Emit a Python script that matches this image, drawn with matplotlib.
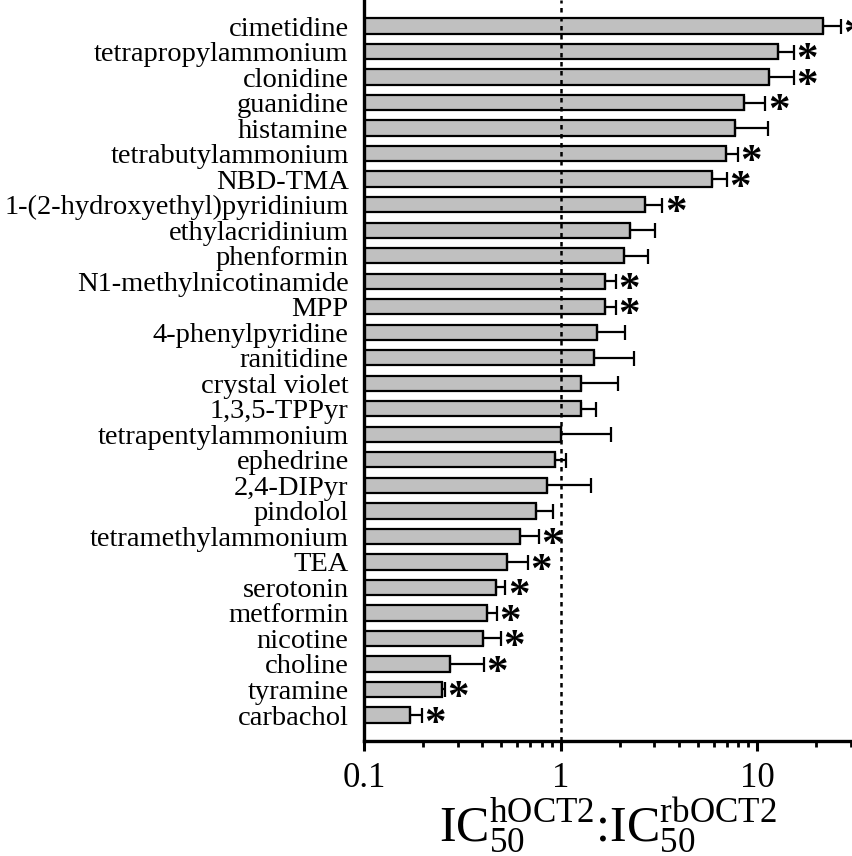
import matplotlib
matplotlib.use("Agg")
import matplotlib.pyplot as plt
import numpy as np

plt.rcParams['font.family'] = ['Liberation Serif', 'DejaVu Serif']
plt.rcParams['mathtext.fontset'] = 'custom'
plt.rcParams['mathtext.rm'] = 'Liberation Serif'
plt.rcParams['mathtext.it'] = 'Liberation Serif'
plt.rcParams['mathtext.bf'] = 'Liberation Serif:bold'

# compuestos, de arriba hacia abajo
compuestos = ['cimetidine', 'tetrapropylammonium', 'clonidine', 'guanidine',
              'histamine', 'tetrabutylammonium', 'NBD-TMA',
              '1-(2-hydroxyethyl)pyridinium', 'ethylacridinium', 'phenformin',
              'N1-methylnicotinamide', 'MPP', '4-phenylpyridine', 'ranitidine',
              'crystal violet', '1,3,5-TPPyr', 'tetrapentylammonium',
              'ephedrine', '2,4-DIPyr', 'pindolol', 'tetramethylammonium',
              'TEA', 'serotonin', 'metformin', 'nicotine', 'choline',
              'tyramine', 'carbachol']

# cociente IC50 hOCT2 : IC50 rbOCT2
ratio = [21.5, 12.7, 11.5, 8.6, 7.7, 6.9, 5.9,
         2.69, 2.25, 2.10,
         1.69, 1.68, 1.54, 1.48,
         1.27, 1.27, 1.00,
         0.94, 0.85, 0.75, 0.62,
         0.535, 0.47, 0.42, 0.405, 0.275,
         0.248, 0.172]

# extremo superior de la barra de error
err_sup = [26.6, 15.3, 15.4, 11.0, 11.3, 8.0, 7.0,
           3.29, 3.01, 2.78,
           1.91, 1.91, 2.13, 2.35,
           1.96, 1.51, 1.80,
           1.06, 1.42, 0.92, 0.776,
           0.682, 0.523, 0.474, 0.497, 0.407,
           0.258, 0.197]

# diferencia significativa (*)
signif = [1, 1, 1, 1, 0, 1, 1,
          1, 0, 0,
          1, 1, 0, 0,
          0, 0, 0,
          0, 0, 0, 1,
          1, 1, 1, 1, 1,
          1, 1]

n = len(compuestos)
y = np.arange(n)[::-1]
ratio = np.array(ratio)
err_sup = np.array(err_sup)
base = 0.1

fig = plt.figure(figsize=(8.53, 8.56), dpi=100)
ax = fig.add_axes([0.4267, 0.1343, 0.571, 0.8657])

ax.barh(y, ratio - base, left=base, height=0.6, color='#c0c0c0',
        edgecolor='black', linewidth=1.6, zorder=2)
ax.errorbar(ratio, y, xerr=[np.zeros(n), err_sup - ratio], fmt='none',
            ecolor='black', elinewidth=1.6, capsize=5.4, capthick=1.6, zorder=3)

# asteriscos
for yi, e, s in zip(y, err_sup, signif):
    if s:
        ax.annotate('*', xy=(e, yi), xytext=(1.8, -14.2), textcoords='offset points',
                    ha='left', va='baseline', fontsize=31, fontweight='bold',
                    clip_on=False, annotation_clip=False)

ax.axvline(1, color='black', linestyle=(0, (1.8, 1.8)), linewidth=1.8, zorder=4)

ax.set_xscale('log')
ax.set_xlim(0.1, 30)
ax.set_ylim(-1.02, n - 1 + 1.02)
ax.set_yticks(y)
ax.set_yticklabels(compuestos, fontsize=20.5)
ax.tick_params(axis='y', length=0, pad=11)
ax.set_xticks([0.1, 1, 10])
ax.set_xticklabels(['0.1', '1', '10'], fontsize=25)
ax.tick_params(axis='x', which='major', length=7, width=2.2, pad=8)
ax.tick_params(axis='x', which='minor', length=4.5, width=2.0)

for lado in ['top', 'right']:
    ax.spines[lado].set_visible(False)
for lado in ['left', 'bottom']:
    ax.spines[lado].set_linewidth(2.4)

ax.set_xlabel(r'IC$_{50}^{\mathrm{hOCT2}}$:IC$_{50}^{\mathrm{rbOCT2}}$',
              fontsize=36, labelpad=1)

fig.savefig('out.png', dpi=100)
